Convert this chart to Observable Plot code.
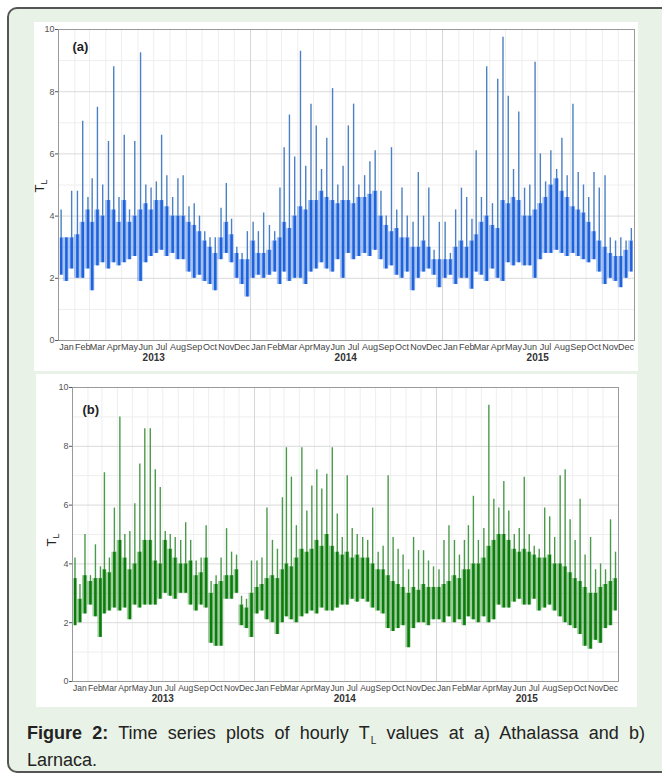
<!DOCTYPE html>
<html><head><meta charset="utf-8">
<script src="https://cdn.jsdelivr.net/npm/d3@7"></script>
<script src="https://cdn.jsdelivr.net/npm/@observablehq/plot@0.6"></script>
<style>
html,body{margin:0;padding:0;background:#fff;}
body{width:662px;height:776px;position:relative;overflow:hidden;font-family:"Liberation Sans",Arial,sans-serif;}
#frame{position:absolute;left:7px;top:7px;width:680px;height:762px;border:2px solid #555;border-radius:10px;background:#e9f2e6;}
#pa{position:absolute;left:34px;top:22px;}
#pb{position:absolute;left:36px;top:374px;}
#pa svg,#pb svg{overflow:visible;display:block;}
#cap{position:absolute;left:27px;top:721px;width:618px;font-size:18px;line-height:24px;text-align:justify;color:#222;}
#cap .sub{font-size:10px;position:relative;top:5px;margin-left:1px;color:#222;}
</style></head><body>
<div id="frame"></div>
<div id="pa"></div><div id="pb"></div>
<div id="cap"><b>Figure 2:</b> Time series plots of hourly T<span class="sub">L</span> values at a) Athalassa and b) Larnaca.</div>
<script>
// Tick labels / categories
const monthNames = ["Jan","Feb","Mar","Apr","May","Jun","Jul","Aug","Sep","Oct","Nov","Dec"];
const years = [2013, 2014, 2015];
const dekadDays = [6, 16, 26];           // centre day of each ten-day bin
const majorY = [0, 2, 4, 6, 8, 10];
const minorY = [1, 3, 5, 7, 9];

// (a) Athalassa: per ten-day bin, low of dense band, top of dense band, peak spike
const aLow = [
2.1,1.9,2.3, 2.0,2.0,2.3, 1.6,2.4,2.5, 2.3,2.5,2.4,
2.5,2.6,2.7, 1.9,2.5,2.7, 2.8,2.9,2.7, 2.8,2.6,2.6,
2.2,2.0,2.1, 1.9,1.8,1.6, 2.6,2.8,2.5, 2.0,1.8,1.4,
2.0,2.1,2.0, 2.1,2.2,1.8, 2.2,1.9,2.0, 2.0,1.8,2.2,
2.3,2.5,2.3, 2.2,2.6,2.0, 2.8,2.6,2.7, 2.8,2.7,2.9,
2.6,2.3,2.4, 2.1,2.0,2.2, 1.6,2.0,2.2, 2.3,2.1,1.7,
2.0,2.1,1.8, 2.0,2.0,1.65, 2.2,2.1,1.9, 2.3,2.0,1.9,
2.5,2.4,2.5, 2.4,2.4,2.0, 2.6,2.8,2.8, 2.9,2.8,2.7,
2.8,2.7,2.6, 2.5,2.6,2.2, 1.8,2.0,1.9, 1.7,2.0,2.2];
const aTop = [
3.3,3.3,3.3, 3.4,3.8,4.2, 3.8,4.2,4.0, 4.5,4.2,3.8,
4.5,3.8,4.0, 4.2,4.4,4.2, 4.5,4.5,4.3, 4.0,4.0,4.0,
3.8,3.7,3.5, 3.2,3.0,2.8, 3.3,3.8,3.4, 2.8,2.6,2.6,
3.2,2.8,2.8, 2.9,3.2,3.3, 3.8,3.6,4.0, 4.3,4.2,4.5,
4.5,4.8,4.6, 4.5,4.4,4.5, 4.5,4.4,4.6, 4.6,4.7,4.8,
4.0,3.7,3.5, 3.6,3.3,3.3, 3.0,3.0,3.2, 3.0,2.6,2.6,
2.6,2.6,3.0, 3.2,3.0,3.2, 3.4,3.8,4.0, 3.7,3.6,4.5,
4.4,4.6,4.5, 4.0,4.0,4.2, 4.4,4.6,5.0, 5.2,4.8,4.6,
4.3,4.2,4.1, 3.8,3.5,3.2, 3.0,2.8,2.7, 2.7,2.9,3.2];
const aPeak = [
4.2,3.3,4.8, 4.8,7.05,4.6, 5.2,7.5,5.0, 6.4,8.8,4.6,
6.6,4.2,6.4, 9.25,5.0,4.9, 5.1,6.6,5.3, 4.6,5.2,5.3,
4.3,4.4,4.0, 3.5,3.3,3.3, 4.25,5.05,3.9, 3.0,2.8,3.5,
3.8,3.5,4.1, 3.7,3.5,4.9, 6.2,7.25,5.9, 9.3,5.6,7.6,
6.9,5.5,6.5, 8.1,5.0,5.6, 6.9,7.6,5.0, 5.3,5.75,6.1,
4.8,4.0,6.2, 4.2,4.9,4.0, 3.8,5.4,4.0, 4.9,2.9,3.8,
3.8,2.8,4.2, 4.9,4.6,3.9, 6.1,4.6,8.8, 4.4,8.4,9.75,
7.85,5.5,7.35, 4.9,5.0,8.95, 6.0,5.1,6.1, 5.5,6.5,5.3,
7.6,5.4,5.0, 4.6,5.4,4.9, 5.3,3.3,3.2, 3.3,3.2,3.6];

// (b) Larnaca
const bLow = [
1.9,2.0,2.3, 2.6,2.2,1.5, 2.3,2.4,2.5, 2.4,2.5,2.1,
2.6,2.5,2.6, 2.6,2.6,2.8, 3.0,2.9,2.8, 3.0,3.0,2.6,
2.4,2.6,2.5, 1.3,1.2,1.2, 2.8,2.8,3.0, 1.9,1.8,1.5,
2.3,2.4,2.1, 2.0,1.6,2.0, 2.2,2.1,2.0, 2.2,2.3,2.4,
2.3,2.5,2.4, 2.4,2.5,2.6, 2.6,2.8,2.7, 2.8,2.7,2.5,
2.4,2.3,1.8, 1.7,1.8,1.9, 1.15,1.8,2.0, 2.0,1.9,2.1,
2.1,2.0,2.2, 2.0,2.1,1.9, 2.2,2.1,2.0, 2.2,2.0,2.1,
2.6,2.5,2.5, 2.7,2.8,2.6, 2.6,2.8,2.4, 2.5,2.6,2.4,
2.2,2.0,1.9, 1.8,1.6,1.2, 1.1,1.4,1.3, 1.8,1.9,2.4];
const bTop = [
3.5,2.8,3.6, 3.4,3.5,3.5, 3.8,3.7,4.4, 4.8,4.2,3.8,
4.0,4.4,4.8, 4.8,4.1,4.0, 4.8,4.5,4.2, 4.0,4.0,4.1,
3.6,3.7,4.2, 3.0,3.3,3.4, 3.6,3.6,3.8, 2.6,2.5,3.0,
3.2,3.3,3.5, 3.6,3.5,3.8, 4.0,3.9,4.2, 4.5,4.4,4.5,
4.8,4.6,5.0, 4.6,4.4,4.3, 4.4,4.2,4.3, 4.2,4.2,4.0,
3.8,3.8,3.6, 3.4,3.3,3.2, 3.0,3.2,3.1, 3.3,3.2,3.2,
3.2,3.3,3.4, 3.6,3.5,3.8, 3.8,4.0,4.0, 4.2,4.6,4.8,
5.0,5.0,4.8, 4.5,4.4,4.5, 4.4,4.3,4.2, 4.2,4.3,4.0,
4.0,3.9,3.7, 3.5,3.4,3.2, 3.0,3.0,3.2, 3.3,3.4,3.5];
const bPeak = [
4.2,3.3,5.0, 3.6,4.65,3.9, 7.1,4.2,5.9, 9.0,5.0,5.1,
6.05,7.4,8.6, 8.6,7.2,6.6, 5.1,5.0,4.9, 4.8,5.4,4.8,
4.1,4.2,5.3, 3.4,3.6,4.2, 5.2,4.4,4.3, 2.9,2.8,4.1,
4.1,4.2,5.9, 4.8,4.5,6.25, 7.95,6.95,5.3, 7.95,5.8,6.65,
7.2,6.55,7.05, 7.95,5.7,4.9, 7.0,5.2,5.0, 4.9,4.8,5.9,
4.4,4.6,7.0, 4.9,4.5,4.3, 3.8,4.9,4.45, 4.45,4.1,3.9,
3.8,4.8,5.3, 4.8,4.3,4.8, 5.3,6.3,4.8, 5.2,9.4,6.2,
5.9,6.8,5.8, 5.0,5.2,6.95, 5.0,4.6,4.5, 5.9,5.6,4.9,
7.0,7.2,5.5, 4.8,6.2,4.3, 4.9,3.8,4.0, 3.8,5.5,4.4];

function build(low, top, peak) {
  return low.map((l, i) => ({
    date: new Date(Date.UTC(years[0], Math.floor(i / 3), dekadDays[i % 3])),
    low: l, top: top[i], peak: peak[i]
  }));
}
const monthStarts = [], monthMids = [], yearStarts = [], yearMids = [];
years.forEach(y => {
  yearStarts.push(new Date(Date.UTC(y, 0, 1)));
  yearMids.push(new Date(Date.UTC(y, 6, 1)));
  monthNames.forEach((_, m) => {
    monthStarts.push(new Date(Date.UTC(y, m, 1)));
    monthMids.push(new Date(Date.UTC(y, m, 16)));
  });
});
monthStarts.push(new Date(Date.UTC(years[years.length-1] + 1, 0, 1)));

function panel(data, o) {
  const svg = Plot.plot({
    width: o.width, height: o.height,
    marginLeft: o.ml, marginTop: o.mt, marginRight: o.mr, marginBottom: o.mb,
    style: {background: "#fff", fontFamily: "Liberation Sans, Arial, sans-serif", overflow: "visible"},
    x: {type: "utc", domain: [new Date(Date.UTC(2013, 0, 1)), new Date(Date.UTC(2016, 0, 1))], label: null},
    y: {domain: [0, 10], label: null},
    marks: [
      Plot.gridY(minorY, {stroke: "#eeeeee", strokeOpacity: 1}),
      Plot.gridX(monthStarts, {stroke: "#eeeeee", strokeOpacity: 1}),
      Plot.gridY(majorY, {stroke: "#dadada", strokeOpacity: 1}),
      Plot.gridX(yearStarts, {stroke: "#d6d6d6", strokeOpacity: 1}),
      Plot.areaY(data, {x: "date", y1: "low", y2: "top", curve: "step", fill: o.band, fillOpacity: 0.38}),
      Plot.ruleX(data, {x: "date", y1: "top", y2: "peak", stroke: o.spike, strokeWidth: 1.4}),
      Plot.ruleX(data, {x: "date", y1: "low", y2: "top", stroke: o.band, strokeWidth: 2.6}),
      Plot.frame({stroke: "#9a9a9a"}),
      Plot.axisY(majorY, {tickSize: 3, tickPadding: 1, fontSize: 9, color: "#555", label: null}),
      Plot.axisX(monthMids, {tickSize: 0, tickPadding: 3, fontSize: o.monthFont, color: "#444", label: null,
        tickFormat: d => monthNames[d.getUTCMonth()]}),
      Plot.axisX(yearMids, {tickSize: 0, tickPadding: 13, fontSize: 10, fontWeight: "bold", color: "#333", label: null,
        tickFormat: d => String(d.getUTCFullYear())}),
      Plot.text([o.tag], {frameAnchor: "top-left", dx: o.tagDx, dy: o.tagDy, fontSize: 13, fontWeight: "bold", fill: "#222"})
    ]
  });
  const lab = d3.select(svg).append("text")
    .attr("transform", `translate(${o.tlX},${o.tlY}) rotate(-90)`)
    .attr("text-anchor", "middle")
    .attr("font-family", "Liberation Sans, Arial, sans-serif")
    .attr("font-size", 13).attr("fill", "#222");
  lab.append("tspan").text("T");
  lab.append("tspan").attr("dy", 3).attr("font-size", 9).text("L");
  return svg;
}

document.getElementById("pa").appendChild(panel(build(aLow, aTop, aPeak), {
  width: 604, height: 349, ml: 24, mt: 7, mr: 4, mb: 31,
  band: "#1e63dc", spike: "#4c80c4", monthFont: 9,
  tag: "(a)", tagDx: 14, tagDy: 12, tlX: 10, tlY: 164
}));
document.getElementById("pb").appendChild(panel(build(bLow, bTop, bPeak), {
  width: 601, height: 333, ml: 36, mt: 13, mr: 19, mb: 26,
  band: "#0b7d0b", spike: "#4b9a4b", monthFont: 8.5,
  tag: "(b)", tagDx: 10, tagDy: 17, tlX: 20, tlY: 166
}));
</script>
</body></html>
